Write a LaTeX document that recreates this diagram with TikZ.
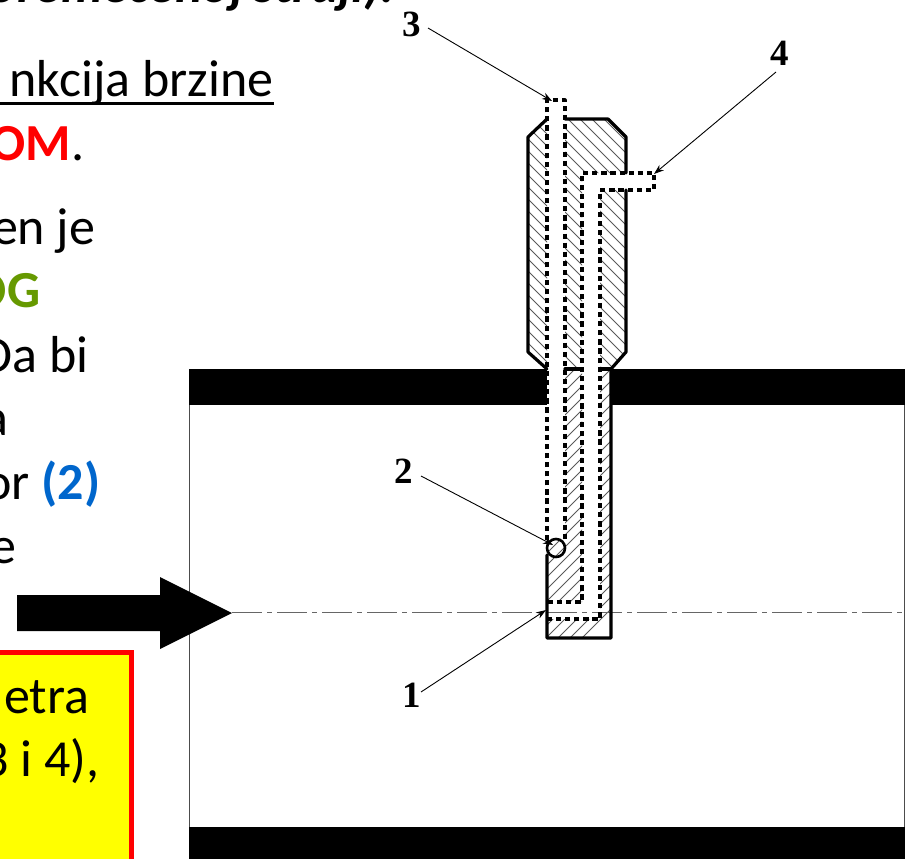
\documentclass[tikz,border=0pt]{standalone}
\usepackage{fontspec}
\setmainfont{Carlito}
\newfontfamily\numfont{Liberation Serif}
\usetikzlibrary{arrows.meta}
\definecolor{redtxt}{HTML}{FF0000}
\definecolor{greentxt}{HTML}{669900}
\definecolor{bluetxt}{HTML}{0066CC}
\definecolor{boxyellow}{HTML}{FFFF00}
\tikzset{
  bodytext/.style={anchor=base east,inner sep=0pt,font=\fontsize{52}{52}\selectfont},
  numlabel/.style={inner sep=0pt,font=\fontsize{37}{37}\selectfont\numfont\bfseries},
  leader/.style={line width=0.9pt,-{Stealth[length=10pt,width=7pt]}},
  solidline/.style={line width=3.2pt,line cap=round,line join=round},
  dashline/.style={line width=3.2pt,dash pattern=on 5.2pt off 3.9pt,line join=round},
  hatchline/.style={line width=1pt,black!65},
  band/.style={fill=black,draw=none},
}
\begin{document}
\begin{tikzpicture}[x=1pt,y=-1pt]
\useasboundingbox (0,0) rectangle (905,859);
% body text
\node[bodytext] (t0) at (395,3) {\textbf{\textit{oremećenoj struji).}}};
\node[bodytext] (t1) at (273.5,96) {nkcija brzine};
\draw[line width=3pt] (0,103) -- (t1.base east |- 0,103);
\node[bodytext] (t2) at (84.5,160) {\textcolor{redtxt}{\textbf{OM}}.};
\node[bodytext] (t3) at (95.5,244) {en je};
\node[bodytext] (t4) at (40.5,307) {\textcolor{greentxt}{\textbf{OG}}};
\node[bodytext] (t5) at (88.5,372) {Da bi};
\node[bodytext] (t6) at (9,435) {a};
\node[bodytext] (t7) at (100.5,499) {or \textcolor{bluetxt}{\textbf{(2)}}};
\node[bodytext] (t8) at (17,563) {e};
% yellow box
\fill[boxyellow,draw=redtxt,line width=5.5pt] (-10,652.5) rectangle (131.5,880);
\node[bodytext] (t9) at (89.5,713) {etra};
\node[bodytext] (t10) at (99.5,776) {3 i 4),};
% pipe
\fill[band] (189,369) rectangle (905,405);
\fill[band] (189,827) rectangle (905,859);
\draw[line width=1pt,black!70] (189,405) -- (189,827);
\draw[line width=1pt,black!70] (904.5,405) -- (904.5,827);
% flow arrow
\fill[black] (17,595) -- (160,595) -- (160,577) -- (232,613) -- (160,649) -- (160,631) -- (17,631) -- cycle;
% probe white background inside the wall
\fill[white] (547,369) rectangle (611,405);
% hatching upper
\begin{scope}
\clip (528,137) -- (547,119) -- (547,369) -- (528,352) -- cycle
      (565,119) -- (608,119) -- (626,137) -- (626,173) -- (582,173) -- (582,369) -- (565,369) -- cycle
      (600,190) -- (626,190) -- (626,352) -- (611,369) -- (600,369) -- cycle;
\foreach \i in {-190,-178,...,260}
  \draw[hatchline] (500,109+\i) -- (650,259+\i);
\end{scope}
% hatching lower
\begin{scope}
\clip (565,369) -- (582,369) -- (582,602) -- (547,602) -- (547,540) -- (565,540) -- cycle
      (600,369) -- (611,369) -- (611,638) -- (547,638) -- (547,619) -- (600,619) -- cycle;
\foreach \i in {0,12,...,300}
  \draw[hatchline] (520,400+\i) -- (640,280+\i);
\end{scope}
% centre line
\draw[line width=0.8pt,black!60,dash pattern=on 30pt off 5pt on 5pt off 5pt] (232,612.5) -- (905,612.5);
% solid outlines
\draw[solidline] (547,119) -- (528,137) -- (528,352) -- (547,369);
\draw[solidline] (565,119) -- (608,119) -- (626,137) -- (626,173);
\draw[solidline] (626,190) -- (626,352) -- (611,369) -- (611,638) -- (547,638) -- (547,555);
\draw[solidline] (565,369) -- (582,369);
\draw[solidline] (600,369) -- (611,369);
% dashed channels
\draw[dashline] (547,540) -- (547,100) -- (565,100) -- (565,540);
\draw[dashline] (548,602) -- (582,602) -- (582,173) -- (654,173) -- (654,190) -- (600,190) -- (600,619) -- (547,619);
% sensor
\node[circle,draw,line width=2.6pt,minimum size=18pt,inner sep=0pt] (sensor) at (556,548) {};
% labels and leaders
\node[numlabel] (n3) at (411.5,24.5) {3};
\node[numlabel] (n4) at (779.5,53.5) {4};
\node[numlabel] (n2) at (403.5,471.5) {2};
\node[numlabel] (n1) at (411.5,695.5) {1};
\coordinate (p3) at (552,101);
\coordinate (p4) at (654,174);
\coordinate (p2) at (553,545);
\coordinate (p1) at (546,610);
\draw[leader] (428,28) -- (p3);
\draw[leader] (776,72) -- (p4);
\draw[leader] (421,476) -- (p2);
\draw[leader] (421,692) -- (p1);
\end{tikzpicture}
\end{document}
